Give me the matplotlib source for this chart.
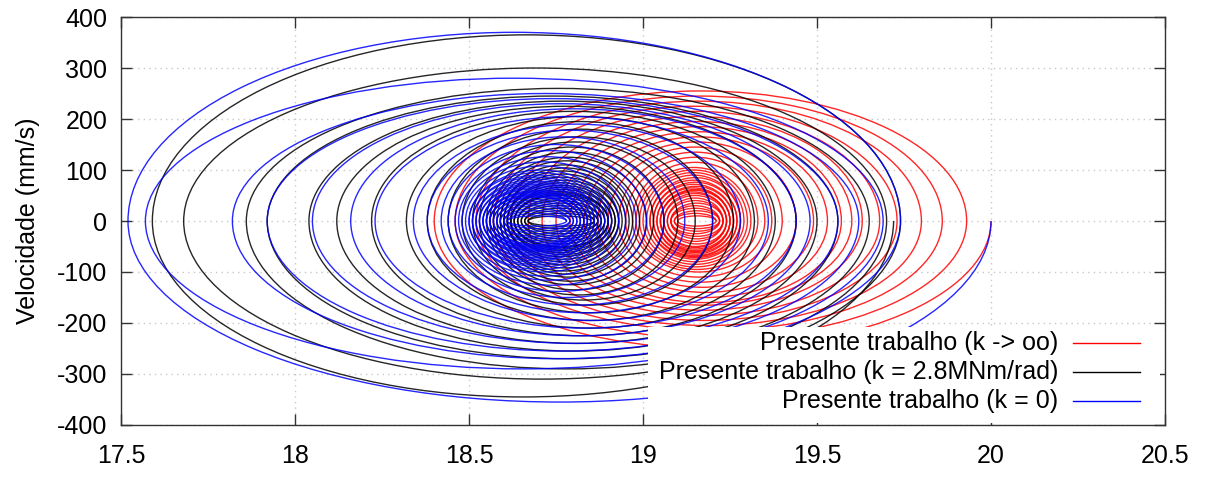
import matplotlib
matplotlib.use("Agg")
import matplotlib.pyplot as plt
from matplotlib.patches import Arc, Rectangle
from matplotlib.lines import Line2D

plt.rcParams['font.family'] = ['Liberation Sans', 'DejaVu Sans']

# turning points (v = 0) and half-cycle peak velocities
# sequence: R[0] -> lower half (lo[0]) -> L[0] -> upper half (up[0]) -> R[1] ...
red_R = [20.00, 19.93, 19.86, 19.80, 19.73, 19.68, 19.63, 19.60, 19.57, 19.53, 19.49, 19.44,
         19.40, 19.37, 19.35, 19.33, 19.31, 19.30, 19.29, 19.28, 19.28, 19.27, 19.27, 19.26,
         19.26, 19.25, 19.25, 19.25, 19.24, 19.24, 19.24, 19.23, 19.23, 19.23, 19.22, 19.22,
         19.22, 19.21, 19.21]
red_L = [18.40, 18.46, 18.52, 18.57, 18.62, 18.67, 18.71, 18.75, 18.79, 18.83, 18.87, 18.90,
         18.93, 18.95, 18.97, 18.98, 18.99, 19.00, 19.01, 19.02, 19.02, 19.03, 19.03, 19.04,
         19.04, 19.05, 19.05, 19.05, 19.06, 19.06, 19.07, 19.07, 19.08, 19.08, 19.08, 19.09,
         19.09, 19.10]
red_lo = [-250, -230, -215, -205, -195, -185, -175, -165, -160, -150, -140, -130,
          -120, -110, -100, -95, -90, -85, -80, -75, -72, -70, -68, -65,
          -62, -60, -58, -55, -52, -50, -45, -40, -35, -30, -25, -20, -15, -10]
red_up = [255, 245, 235, 225, 215, 205, 195, 185, 175, 165, 155, 145,
          135, 125, 115, 105, 100, 95, 90, 85, 80, 76, 72, 68,
          65, 62, 60, 57, 54, 50, 45, 40, 35, 30, 25, 20, 15, 10]

blk_R = [19.72, 19.74, 19.70, 19.65, 19.56, 19.50, 19.44, 19.38, 19.32, 19.26, 19.20, 19.15,
         19.10, 19.06, 19.03, 19.01, 18.99, 18.97, 18.96, 18.95, 18.94, 18.93, 18.93, 18.92,
         18.92, 18.91, 18.91, 18.90, 18.90, 18.90, 18.89, 18.89, 18.88, 18.88, 18.87, 18.87,
         18.86, 18.86, 18.85]
blk_L = [17.59, 17.68, 17.86, 17.92, 18.04, 18.12, 18.22, 18.32, 18.38, 18.44, 18.48, 18.51,
         18.53, 18.55, 18.56, 18.57, 18.58, 18.59, 18.59, 18.60, 18.60, 18.61, 18.61, 18.61,
         18.62, 18.62, 18.62, 18.63, 18.63, 18.63, 18.64, 18.64, 18.65, 18.65, 18.66, 18.66,
         18.67, 18.67]
blk_lo = [-345, -310, -290, -270, -255, -240, -225, -210, -195, -180, -165, -155,
          -145, -135, -125, -118, -110, -104, -98, -92, -86, -80, -75, -70,
          -66, -62, -58, -55, -52, -50, -45, -40, -35, -30, -25, -20, -15, -10]
blk_up = [365, 300, 260, 245, 235, 225, 215, 205, 195, 180, 165, 155,
          145, 135, 125, 118, 110, 104, 98, 92, 86, 80, 75, 70,
          66, 62, 58, 55, 52, 50, 45, 40, 35, 30, 25, 20, 15, 10]

blu_R = [20.00, 19.74, 19.69, 19.62, 19.56, 19.48, 19.44, 19.36, 19.28, 19.20, 19.12, 19.06,
         19.01, 18.98, 18.95, 18.93, 18.91, 18.90, 18.89, 18.88, 18.87, 18.87, 18.86, 18.86,
         18.85, 18.85, 18.84, 18.84, 18.84, 18.83, 18.83, 18.83, 18.82, 18.82, 18.82, 18.81,
         18.81, 18.80, 18.80, 18.79, 18.79, 18.78, 18.78]
blu_L = [17.52, 17.57, 17.82, 17.92, 18.05, 18.16, 18.23, 18.34, 18.38, 18.42, 18.44, 18.46,
         18.47, 18.48, 18.49, 18.50, 18.50, 18.51, 18.51, 18.52, 18.52, 18.53, 18.53, 18.54,
         18.54, 18.54, 18.55, 18.55, 18.55, 18.56, 18.56, 18.56, 18.57, 18.57, 18.58, 18.58,
         18.59, 18.59, 18.60, 18.60, 18.61, 18.61]
blu_lo = [-355, -290, -270, -255, -240, -225, -210, -195, -180, -165, -150, -138,
          -126, -116, -108, -100, -95, -90, -86, -82, -78, -75, -72, -69,
          -66, -63, -60, -58, -56, -54, -52, -50, -48, -46, -42, -38, -34, -30,
          -25, -20, -15, -10]
blu_up = [370, 280, 250, 240, 230, 220, 205, 190, 178, 165, 150, 138,
          126, 116, 108, 100, 95, 90, 86, 82, 78, 75, 72, 69,
          66, 63, 60, 58, 56, 54, 52, 50, 48, 46, 42, 38, 34, 30,
          25, 20, 15, 10]

labels = ['Presente trabalho (k -> oo)',
          'Presente trabalho (k = 2.8MNm/rad)',
          'Presente trabalho (k = 0)']
colors = ['#ff0000', '#000000', '#0000ff']

x_ticks = [17.5, 18, 18.5, 19, 19.5, 20, 20.5]
x_tick_labels = ['17.5', '18', '18.5', '19', '19.5', '20', '20.5']
y_ticks = [-400, -300, -200, -100, 0, 100, 200, 300, 400]
y_tick_labels = ['-400', '-300', '-200', '-100', '0', '100', '200', '300', '400']


def draw_spiral(ax, R, L, lo, up, color, skip_deg=0):
    for i in range(len(L)):
        # lower half, moving left
        ax.add_patch(Arc(((R[i] + L[i]) / 2, 0), R[i] - L[i], 2 * abs(lo[i]),
                         theta1=180, theta2=360 - (skip_deg if i == 0 else 0),
                         color=color, lw=1.0, alpha=0.85, zorder=2))
        # upper half, moving right
        ax.add_patch(Arc(((L[i] + R[i + 1]) / 2, 0), R[i + 1] - L[i], 2 * up[i],
                         theta1=0, theta2=180,
                         color=color, lw=1.0, alpha=0.85, zorder=2))


fig = plt.figure(figsize=(12.08, 4.78), dpi=100)
ax = fig.add_axes([0.1002, 0.1109, 0.8642, 0.8535])

draw_spiral(ax, red_R, red_L, red_lo, red_up, colors[0])
draw_spiral(ax, blk_R, blk_L, blk_lo, blk_up, colors[1])
draw_spiral(ax, blu_R, blu_L, blu_lo, blu_up, colors[2], skip_deg=12)

ax.set_xlim(17.5, 20.5)
ax.set_ylim(-400, 400)
ax.set_xticks(x_ticks)
ax.set_xticklabels(x_tick_labels)
ax.set_yticks(y_ticks)
ax.set_yticklabels(y_tick_labels)
ax.tick_params(direction='in', length=8, width=1, top=True, right=True,
               labelsize=18, colors='#333333', labelcolor='black')
ax.tick_params(axis='x', pad=14)
ax.tick_params(axis='y', pad=10)
ax.grid(True, color='#c8c8c8', linestyle=(0, (1, 3)), lw=1)
ax.set_axisbelow(True)
for s in ax.spines.values():
    s.set_color('#333333')
    s.set_linewidth(1)
ax.set_ylabel('Velocidade (mm/s)', fontsize=18, labelpad=12)

# gnuplot-style key: opaque box, right aligned text, sample on the right
ax.add_patch(Rectangle((0.505, 0.005), 0.49, 0.235, transform=ax.transAxes,
                       facecolor='white', edgecolor='none', zorder=5))
rows = [0.201, 0.130, 0.059]
for lab, col, yy in zip(labels, colors, rows):
    ax.text(0.8975, yy, lab, transform=ax.transAxes, ha='right', va='center',
            fontsize=18, zorder=6)
    ax.add_line(Line2D([0.912, 0.976], [yy, yy], transform=ax.transAxes,
                       color=col, lw=1, zorder=6))

fig.savefig('out.png', dpi=100)
